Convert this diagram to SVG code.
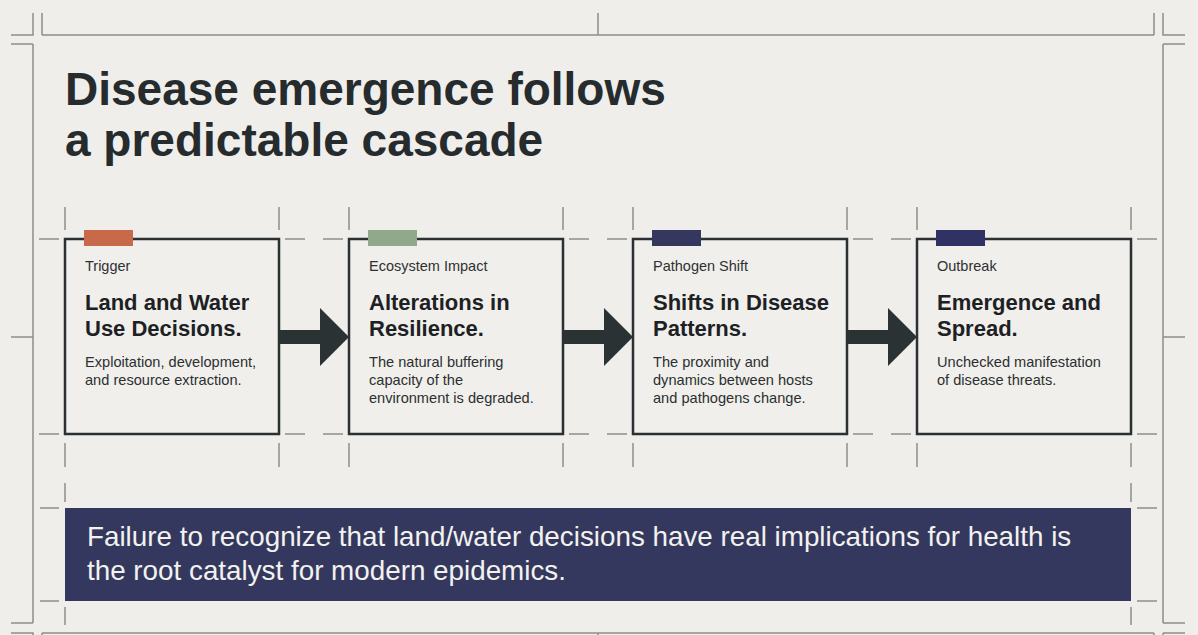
<svg xmlns="http://www.w3.org/2000/svg" width="1198" height="635" viewBox="0 0 1198 635">
  <style>
    .frame { stroke: #8d8e8b; stroke-width: 1.5; fill: none; }
    .tick { stroke: #8d8e8b; stroke-width: 1.5; fill: none; }
    .box { fill: #f0efeb; stroke: #2b3133; stroke-width: 2.5; }
    .label { font-family: "Liberation Sans", Arial, sans-serif; font-size: 14.5px; fill: #2e3133; }
    .head { font-family: "Liberation Sans", Arial, sans-serif; font-size: 22px; font-weight: bold; fill: #1d2123; }
    .desc { font-family: "Liberation Sans", Arial, sans-serif; font-size: 14.6px; fill: #2c2f31; }
    .title { font-family: "Liberation Sans", Arial, sans-serif; font-size: 46px; font-weight: bold; fill: #262b2e; }
    .banner-text { font-family: "Liberation Sans", Arial, sans-serif; font-size: 27.8px; fill: #f2f2ee; }
    .arrow { fill: #2b3234; }
  </style>
  <defs>
    <path id="arrowShape" d="M0,-7 H41 V-29 L70,0 L41,29 V7 H0 Z"/>
    <g id="boxTicks">
      <path d="M0,-32 V-9 M214,-32 V-9 M0,204 V228 M214,204 V228 M-26,0 H-6 M220,0 H240 M-26,195 H-6 M220,195 H240"/>
    </g>
  </defs>

  <rect x="0" y="0" width="1198" height="635" fill="#efeeea"/>

  <g id="frame" class="frame">
    <path d="M42,35 H1154 M42,633 H1154 M33,44 V623 M1163,44 V623"/>
    <path d="M33,13 V35 H11 M42,13 V35 M11,44 H33"/>
    <path d="M1154,13 V35 M1163,13 V35 H1185 M1163,44 H1185"/>
    <path d="M11,623 H33 M11,633 H33 V640 M42,633 V640"/>
    <path d="M1163,623 H1185 M1163,633 H1185 M1154,633 V640 M1163,633 V640"/>
    <path d="M11,337 H33 M1163,337 H1185 M598,13 V35 M598,633 V640"/>
  </g>

  <g id="title">
    <text class="title" x="65" y="105">Disease emergence follows</text>
    <text class="title" x="65" y="156">a predictable cascade</text>
  </g>

  <g id="ticks" class="tick">
    <use href="#boxTicks" transform="translate(65,239)"/>
    <use href="#boxTicks" transform="translate(349,239)"/>
    <use href="#boxTicks" transform="translate(633,239)"/>
    <use href="#boxTicks" transform="translate(917,239)"/>
    <path d="M65,483 V502 M1131,483 V502 M65,607 V625 M1131,607 V625 M40,508 H59 M1137,508 H1157 M40,601 H59 M1137,601 H1157"/>
  </g>

  <g id="node-trigger">
    <rect class="box" x="65" y="239" width="214" height="195"/>
    <rect x="84" y="230" width="49" height="16" fill="#c8694a"/>
    <text class="label" x="85" y="271">Trigger</text>
    <text class="head" x="85" y="310">Land and Water</text>
    <text class="head" x="85" y="336">Use Decisions.</text>
    <text class="desc" x="85" y="367">Exploitation, development,</text>
    <text class="desc" x="85" y="385">and resource extraction.</text>
  </g>

  <g id="node-ecosystem">
    <rect class="box" x="349" y="239" width="214" height="195"/>
    <rect x="368" y="230" width="49" height="16" fill="#8fa98a"/>
    <text class="label" x="369" y="271">Ecosystem Impact</text>
    <text class="head" x="369" y="310">Alterations in</text>
    <text class="head" x="369" y="336">Resilience.</text>
    <text class="desc" x="369" y="367">The natural buffering</text>
    <text class="desc" x="369" y="385">capacity of the</text>
    <text class="desc" x="369" y="403">environment is degraded.</text>
  </g>

  <g id="node-pathogen">
    <rect class="box" x="633" y="239" width="214" height="195"/>
    <rect x="652" y="230" width="49" height="16" fill="#35375f"/>
    <text class="label" x="653" y="271">Pathogen Shift</text>
    <text class="head" x="653" y="310">Shifts in Disease</text>
    <text class="head" x="653" y="336">Patterns.</text>
    <text class="desc" x="653" y="367">The proximity and</text>
    <text class="desc" x="653" y="385">dynamics between hosts</text>
    <text class="desc" x="653" y="403">and pathogens change.</text>
  </g>

  <g id="node-outbreak">
    <rect class="box" x="917" y="239" width="214" height="195"/>
    <rect x="936" y="230" width="49" height="16" fill="#2f3262"/>
    <text class="label" x="937" y="271">Outbreak</text>
    <text class="head" x="937" y="310">Emergence and</text>
    <text class="head" x="937" y="336">Spread.</text>
    <text class="desc" x="937" y="367">Unchecked manifestation</text>
    <text class="desc" x="937" y="385">of disease threats.</text>
  </g>

  <g id="connectors" class="arrow">
    <use href="#arrowShape" transform="translate(279,337)"/>
    <use href="#arrowShape" transform="translate(563,337)"/>
    <use href="#arrowShape" transform="translate(847,337)"/>
  </g>

  <g id="banner">
    <rect x="65" y="508" width="1066" height="93" fill="#35385e"/>
    <text class="banner-text" x="87" y="546">Failure to recognize that land/water decisions have real implications for health is</text>
    <text class="banner-text" x="87" y="580">the root catalyst for modern epidemics.</text>
  </g>
</svg>
